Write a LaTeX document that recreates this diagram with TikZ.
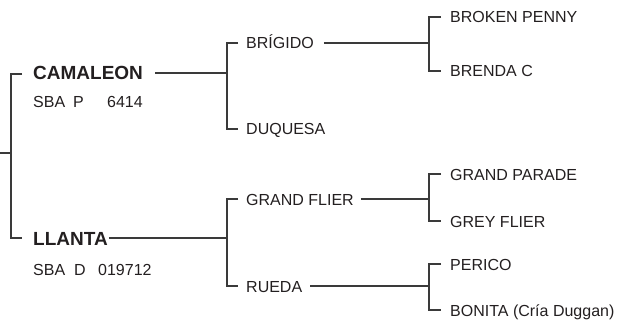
\documentclass[tikz,border=0pt]{standalone}
\usepackage{fontspec}
\setmainfont{Liberation Sans}
\definecolor{lineclr}{HTML}{3A3A3A}
\definecolor{txtclr}{HTML}{231F20}
\begin{document}
\begin{tikzpicture}[x=1pt,y=-1pt,
  ln/.style={draw=lineclr,line width=1.2pt},
  nm/.style={anchor=base west,inner sep=0pt,font=\fontsize{16}{16}\selectfont,text=txtclr},
  bnm/.style={nm,font=\fontsize{19}{19}\selectfont\bfseries}]
\useasboundingbox (0,0) rectangle (631,326);
% names
\node[bnm] (cam) at (33,80) {CAMALEON};
\node[nm] (camreg) at (33,108) {\makebox[40pt][l]{SBA}\makebox[34pt][l]{P}6414};
\node[bnm] (lla) at (33,245) {LLANTA};
\node[nm] (llareg) at (33,275) {\makebox[41pt][l]{SBA}\makebox[24pt][l]{D}019712};
\node[nm] (bri) at (246,49) {BRÍGIDO};
\node[nm] (duq) at (246,135) {DUQUESA};
\node[nm] (gfl) at (246,205) {GRAND FLIER};
\node[nm] (rue) at (246,292) {RUEDA};
\node[nm] (bp) at (450,23) {BROKEN PENNY};
\node[nm] (bc) at (450,77) {BRENDA C};
\node[nm] (gp) at (450,180) {GRAND PARADE};
\node[nm] (gf) at (450,227) {GREY FLIER};
\node[nm] (per) at (450,270) {PERICO};
\node[nm] (bon) at (450,316) {BONITA (Cría Duggan)};
% bracket coordinates
\coordinate (r0) at (0,153);
\coordinate (r1) at (11,153);
\coordinate (b1) at (227,73);
\coordinate (b2) at (227,238);
\coordinate (c1) at (429,43);
\coordinate (c2) at (429,199);
\coordinate (c3) at (429,286);
% root bracket
\draw[ln] (r0) -- (r1);
\draw[ln] (22,74) -- (11,74) -- (11,238) -- (22,238);
% first level connectors
\draw[ln] ([xshift=12pt]cam.east |- b1) -- (b1);
\draw[ln] ([xshift=1pt]lla.east |- b2) -- (b2);
% second level brackets
\draw[ln] (238,43) -- (227,43) -- (227,129) -- (238,129);
\draw[ln] (238,199) -- (227,199) -- (227,286) -- (238,286);
% second level connectors
\draw[ln] ([xshift=10pt]bri.east |- c1) -- (c1);
\draw[ln] ([xshift=7pt]gfl.east |- c2) -- (c2);
\draw[ln] ([xshift=8pt]rue.east |- c3) -- (c3);
% third level brackets
\draw[ln] (441,17) -- (429,17) -- (429,71) -- (441,71);
\draw[ln] (441,174) -- (429,174) -- (429,221) -- (441,221);
\draw[ln] (441,264) -- (429,264) -- (429,310) -- (441,310);
\end{tikzpicture}
\end{document}
